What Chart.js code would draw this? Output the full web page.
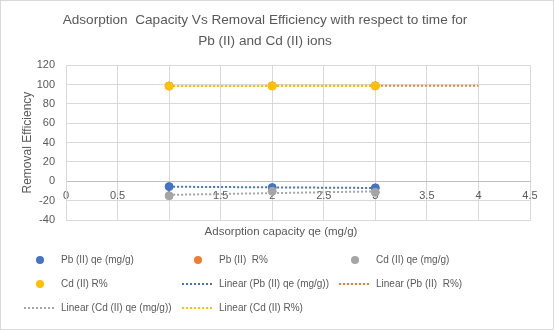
<!DOCTYPE html>
<html>
<head>
<meta charset="utf-8">
<script src="https://cdn.jsdelivr.net/npm/chart.js@4"></script>
<style>
  html, body { margin: 0; padding: 0; background: #fff; }
  canvas { display: block; }
</style>
</head>
<body>
<canvas id="chart" width="554" height="330"></canvas>
<script>

// sampling points (x) and the measured values
var qeX = [1, 2, 3];
var pbQe = [-5.5, -6.5, -6.8];
var pbR = [98.5, 98.6, 98.7];
var cdQe = [-15, -10.3, -11.4];
var cdR = [98.3, 98.5, 98.5];

var seriesNames = ["Pb (II) qe (mg/g)", "Pb (II)  R%", "Cd (II) qe (mg/g)", "Cd (II) R%"];
var seriesColors = ["#4472C4", "#ED7D31", "#A5A5A5", "#FFC000"];
// last x each trendline is drawn to (Pb R% has a forward forecast)
var trendEnd = [3, 4, 3, 3];

var xTicks = { min: 0, max: 4.5, step: 0.5 };
var yTicks = { min: -40, max: 120, step: 20 };

var FONT = "'Liberation Sans', Arial, sans-serif";
var TEXT = "#595959";
var GRID = "#D9D9D9";

// least squares line through the points, evaluated at both ends
function linearTrend(xs, ys, xEnd) {
    var n = xs.length, sx = 0, sy = 0, sxx = 0, sxy = 0;
    for (var i = 0; i < n; i++) {
        sx += xs[i]; sy += ys[i];
        sxx += xs[i] * xs[i]; sxy += xs[i] * ys[i];
    }
    var b = (n * sxy - sx * sy) / (n * sxx - sx * sx);
    var a = (sy - b * sx) / n;
    return [{x: xs[0], y: a + b * xs[0]}, {x: xEnd, y: a + b * xEnd}];
}

function pts(ys) {
    return qeX.map(function (x, i) { return {x: x, y: ys[i]}; });
}

var allValues = [pbQe, pbR, cdQe, cdR];
var datasets = [];
// draw order: yellow markers above orange ones
var markerOrder = [2, 3, 1, 0];
allValues.forEach(function (vals, i) {
    datasets.push({
        type: 'scatter',
        label: seriesNames[i],
        data: pts(vals),
        backgroundColor: seriesColors[i],
        borderColor: seriesColors[i],
        pointRadius: 4,
        pointHoverRadius: 4,
        showLine: false,
        xAxisID: 'x',
        yAxisID: 'y',
        order: markerOrder[i]
    });
});
allValues.forEach(function (vals, i) {
    datasets.push({
        type: 'line',
        label: 'Linear (' + seriesNames[i] + ')',
        data: linearTrend(qeX, vals, trendEnd[i]),
        borderColor: seriesColors[i],
        borderWidth: 2,
        borderDash: [2, 2],
        pointRadius: 0,
        fill: false,
        xAxisID: 'x',
        yAxisID: 'y',
        order: 10 - i
    });
});

// white background with the thin outer frame
var frame = {
    id: 'frame',
    beforeDraw: function (chart) {
        var ctx = chart.ctx;
        ctx.save();
        ctx.fillStyle = '#fff';
        ctx.fillRect(0, 0, chart.width, chart.height);
        ctx.strokeStyle = GRID;
        ctx.lineWidth = 1;
        ctx.strokeRect(0.5, 0.5, chart.width - 1, chart.height - 1);
        ctx.restore();
    }
};

// x axis caption and the three column legend under the plot
var gridLegend = {
    id: 'gridLegend',
    afterDraw: function (chart) {
        var ctx = chart.ctx;
        var cols = [40, 198, 355];
        var rows = [260, 284, 308];
        ctx.save();
        ctx.fillStyle = TEXT;
        ctx.font = '11.5px ' + FONT;
        ctx.textAlign = 'center';
        ctx.textBaseline = 'middle';
        ctx.fillText('Adsorption capacity qe (mg/g)', 281, 232);

        ctx.font = '10px ' + FONT;
        ctx.textAlign = 'left';
        chart.data.datasets.forEach(function (ds, i) {
            var cx = cols[i % 3], cy = rows[Math.floor(i / 3)];
            if (ds.type === 'scatter') {
                ctx.fillStyle = ds.backgroundColor;
                ctx.beginPath();
                ctx.arc(cx, cy, 4, 0, Math.PI * 2);
                ctx.fill();
            } else {
                ctx.strokeStyle = ds.borderColor;
                ctx.lineWidth = 2;
                ctx.setLineDash([2, 2]);
                ctx.beginPath();
                ctx.moveTo(cx - 16, cy);
                ctx.lineTo(cx + 15, cy);
                ctx.stroke();
                ctx.setLineDash([]);
            }
            ctx.fillStyle = TEXT;
            ctx.fillText(ds.label, cx + 21, cy);
        });
        ctx.restore();
    }
};

new Chart(document.getElementById('chart'), {
    type: 'scatter',
    data: { datasets: datasets },
    plugins: [frame, gridLegend],
    options: {
        responsive: false,
        animation: false,
        layout: { padding: { left: 0, right: 24, top: 0, bottom: 90 } },
        plugins: {
            legend: { display: false },
            tooltip: { enabled: false },
            title: {
                display: true,
                text: ['Adsorption  Capacity Vs Removal Efficiency with respect to time for',
                       'Pb (II) and Cd (II) ions'],
                color: TEXT,
                font: { family: FONT, size: 13.6, weight: 'normal', lineHeight: 1.55 },
                padding: { top: 10, bottom: 13 }
            }
        },
        scales: {
            x: {
                type: 'linear',
                position: 'bottom',
                min: xTicks.min, max: xTicks.max,
                ticks: { display: false, stepSize: xTicks.step },
                grid: { color: GRID, drawTicks: false },
                border: { color: GRID },
                afterFit: function (s) { s.height = 20; }
            },
            // tick labels ride on the zero line, over the markers
            x2: {
                type: 'linear',
                axis: 'x',
                position: { y: 0 },
                z: 1,
                min: xTicks.min, max: xTicks.max,
                ticks: {
                    stepSize: xTicks.step, color: TEXT, padding: 8,
                    font: { family: FONT, size: 11 },
                    callback: function (v) { return String(Math.round(v * 10) / 10); }
                },
                grid: { display: false, drawTicks: false },
                border: { color: '#BFBFBF' }
            },
            y: {
                type: 'linear',
                min: yTicks.min, max: yTicks.max,
                ticks: {
                    stepSize: yTicks.step, color: TEXT, padding: 11,
                    font: { family: FONT, size: 11 }
                },
                grid: { color: GRID, drawTicks: false },
                border: { color: GRID },
                title: {
                    display: true,
                    text: 'Removal Efficiency',
                    color: TEXT,
                    font: { family: FONT, size: 12 },
                    padding: { top: 20, bottom: 0 }
                },
                afterFit: function (s) { s.width = 66; }
            }
        }
    }
});
</script>
</body>
</html>
